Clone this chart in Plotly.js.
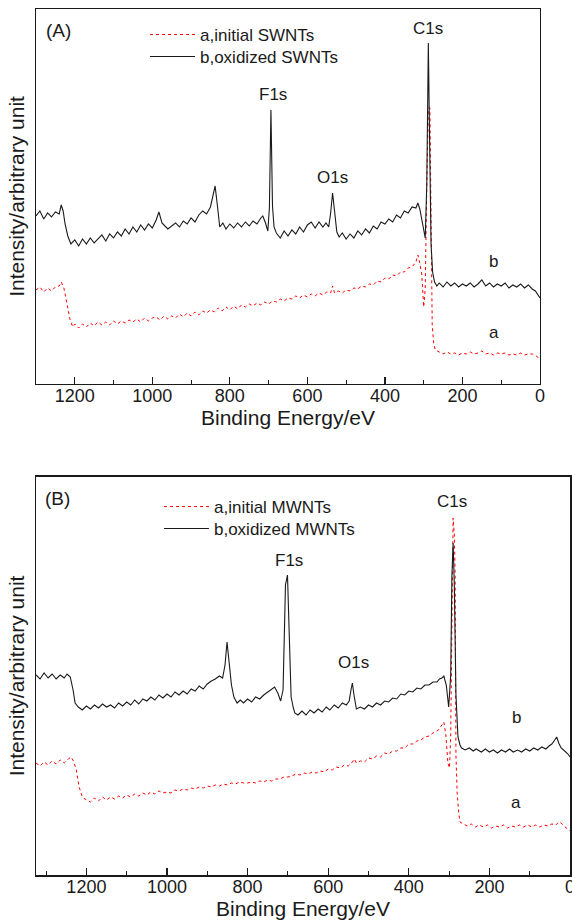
<!DOCTYPE html>
<html>
<head>
<meta charset="utf-8">
<script src="https://cdn.plot.ly/plotly-3.0.1.min.js"></script>
<style>html,body{margin:0;padding:0;background:#fff;}#chart{width:572px;height:924px;}</style>
</head>
<body>
<div id="chart"></div>
<script>
// ---------- Panel A (SWNTs) ----------
const energyA_b = [1300,1290,1280,1270,1260,1250,1240,1235,1230,1225,1218,1210,1200,1190,1180,1170,1160,1150,1140,1130,1120,1110,1100,1090,1080,1070,1060,1050,1040,1030,1020,1010,1000,990,983,975,960,950,940,930,920,910,900,890,880,870,860,850,845,838,832,826,818,810,800,790,780,770,760,750,740,730,720,715,708,702,698,694,690,686,680,670,660,650,640,630,620,610,600,590,580,570,560,552,545,540,535,530,524,518,510,500,490,480,470,460,450,440,430,420,410,400,390,380,370,360,350,340,330,320,315,310,305,300,296,292,288,285,281,277,272,266,260,250,240,230,220,210,200,190,180,170,160,150,140,130,120,110,100,90,80,70,60,50,40,30,20,12,6,0];
const intensityA_b = [168,173,165,171,167,172,170,179,173,160,148,140,144,138,145,140,146,141,145,149,143,150,146,152,148,155,150,157,152,159,154,160,156,164,172,161,155,158,161,157,163,160,166,162,169,173,170,177,185,198,178,157,161,155,160,156,161,157,162,158,163,160,166,168,161,153,176,274,178,157,151,146,153,148,154,150,157,152,159,162,156,162,157,161,157,171,191,170,152,147,151,145,150,146,153,149,155,151,158,155,162,160,165,162,169,166,173,171,177,176,181,175,164,152,146,200,341,250,140,112,102,98,101,97,102,98,101,97,100,98,101,97,100,104,98,101,97,100,98,101,96,99,97,100,96,99,95,93,89,86];

const energyA_a = [1300,1290,1280,1270,1260,1250,1240,1235,1228,1220,1212,1205,1200,1190,1180,1170,1160,1150,1140,1130,1120,1110,1100,1090,1080,1070,1060,1050,1040,1030,1020,1010,1000,990,980,970,960,950,940,930,920,910,900,890,880,870,860,850,840,830,820,810,800,790,780,770,760,750,740,730,720,710,700,690,680,670,660,650,640,630,620,610,600,590,580,570,560,550,540,535,530,520,510,500,490,480,470,460,450,440,430,420,410,400,390,380,370,360,350,340,330,320,315,310,305,300,296,292,288,284,281,278,274,270,260,250,240,230,220,210,200,190,180,170,160,150,140,130,120,110,100,90,80,70,60,50,40,30,20,10,0];
const intensityA_a = [94,97,92,96,93,97,98,102,96,80,64,57,60,56,60,57,61,58,62,59,62,59,63,60,63,61,64,62,65,62,66,63,66,67,64,68,65,68,66,70,67,71,68,72,69,73,71,74,72,76,73,77,74,78,75,79,77,80,78,81,79,82,80,83,82,85,83,86,85,88,86,89,87,90,88,91,89,92,91,98,91,93,91,94,93,96,95,98,97,100,99,103,102,106,105,109,108,112,112,116,117,122,129,121,110,77,95,200,276,276,150,59,40,34,32,30,32,30,31,29,31,30,32,30,31,33,30,31,29,31,30,31,29,30,29,31,29,30,30,28,25];

// ---------- Panel B (MWNTs) ----------
const energyB_b = [1325,1315,1305,1295,1285,1275,1265,1255,1248,1240,1233,1228,1220,1210,1200,1190,1180,1170,1160,1150,1140,1130,1120,1110,1100,1090,1080,1070,1060,1050,1040,1030,1020,1010,1000,990,980,970,960,950,940,930,920,910,900,890,880,870,862,856,851,846,840,834,826,818,810,800,790,780,770,760,750,740,733,725,718,712,706,701,697,692,687,683,675,665,655,645,635,625,615,605,596,585,575,565,555,548,543,540,536,530,520,510,500,490,480,470,460,450,440,430,420,410,400,390,380,370,360,350,340,330,324,318,313,307,301,296,293,290,287,283,278,273,269,260,250,240,233,220,210,200,190,180,170,160,150,141,130,120,110,100,90,80,70,60,52,45,38,33,28,22,16,10,5,0];
const intensityB_b = [200,196,202,197,201,196,200,197,201,198,185,172,168,165,169,166,170,167,171,168,170,167,172,169,173,170,175,171,176,174,178,175,180,177,181,178,183,180,184,181,186,184,189,186,191,194,196,199,197,210,233,210,190,178,172,175,172,176,173,178,176,180,183,186,188,182,174,185,290,300,250,178,168,162,160,164,160,165,162,166,163,168,165,170,167,172,170,174,186,192,180,166,168,166,170,168,172,170,174,173,177,176,181,180,184,183,187,186,190,190,193,193,196,197,199,190,168,200,300,332,290,180,138,130,127,125,127,124,126,123,126,123,125,122,125,123,126,123,125,123,126,124,127,125,128,126,129,131,135,138,132,127,125,123,121,118];

const energyB_a = [1325,1315,1305,1295,1285,1275,1265,1255,1245,1238,1232,1225,1218,1210,1200,1190,1180,1170,1160,1150,1140,1130,1120,1110,1100,1090,1080,1070,1060,1050,1040,1030,1020,1010,1000,990,980,970,960,950,940,930,920,910,900,890,880,870,860,850,840,830,820,810,800,790,780,770,760,750,740,730,720,710,700,690,680,670,660,650,640,630,620,610,600,590,580,570,560,550,540,535,530,520,510,500,490,480,470,460,450,440,430,420,410,400,390,380,370,360,350,340,330,324,318,313,308,303,299,296,293,290,287,285,283,280,276,273,265,255,245,235,225,215,205,195,185,175,165,155,145,135,125,115,105,95,85,75,65,55,45,35,28,22,15,10,5,0];
const intensityB_a = [112,109,113,110,114,111,115,112,116,118,114,105,88,78,75,73,77,74,78,75,78,76,79,77,80,78,81,79,82,80,83,81,84,82,83,82,85,84,86,85,87,86,88,87,89,88,90,89,91,90,92,91,93,92,92,93,92,94,93,95,94,96,96,98,98,99,101,100,102,101,103,102,104,103,106,105,108,107,110,109,113,116,112,114,113,117,116,119,118,122,121,124,124,127,127,131,131,134,135,138,139,142,144,146,150,153,140,112,107,140,250,357,340,300,120,82,62,53,51,49,51,48,50,48,50,47,49,48,50,47,49,48,50,48,50,48,50,48,50,49,51,50,53,52,49,47,46,44];

const tickValsX = [1200,1000,800,600,400,200,0];
const tickTextX = ['1200','1000','800','600','400','200','0'];

const FONT = 'Liberation Sans, Arial, Helvetica, sans-serif';
const INK = '#1a1a1a';
const RED = 'rgb(255,0,0)';

const traces = [
  {x: energyA_a, y: intensityA_a, xaxis:'x', yaxis:'y', type:'scatter', mode:'lines', name:'a,initial SWNTs',
   line:{color:RED, width:1, dash:'dot'}, legend:'legend'},
  {x: energyA_b, y: intensityA_b, xaxis:'x', yaxis:'y', type:'scatter', mode:'lines', name:'b,oxidized SWNTs',
   line:{color:INK, width:1.1}, legend:'legend2'},
  {x: energyB_a, y: intensityB_a, xaxis:'x2', yaxis:'y2', type:'scatter', mode:'lines', name:'a,initial MWNTs',
   line:{color:RED, width:1, dash:'dot'}, legend:'legend3'},
  {x: energyB_b, y: intensityB_b, xaxis:'x2', yaxis:'y2', type:'scatter', mode:'lines', name:'b,oxidized MWNTs',
   line:{color:INK, width:1.1}, legend:'legend4'}
];

function xAxis(range, domain, anchor) {
  return {
    domain: domain, range: range, anchor: anchor, autorange: false,
    showline: true, mirror: true, linecolor: INK, linewidth: 1.5,
    ticks: 'inside', ticklen: 7, tickwidth: 1.2, tickcolor: INK,
    tickvals: tickValsX, ticktext: tickTextX, ticklabeloverflow: 'allow', ticklabelstandoff: -5,
    minor: {dtick: 100, tick0: 0, ticks: 'inside', ticklen: 4, tickwidth: 1, tickcolor: INK, showgrid:false},
    showgrid: false, zeroline: false, automargin: false,
    tickfont: {family: FONT, size: 18, color: INK},
    title: {text: 'Binding Energy/eV', font: {family: FONT, size: 21, color: INK}, standoff: 2}
  };
}
function yAxis(range, domain, anchor) {
  return {
    domain: domain, range: range, anchor: anchor, autorange: false,
    showline: true, mirror: true, linecolor: INK, linewidth: 1.5,
    ticks: '', showticklabels: false, showgrid: false, zeroline: false, automargin: false,
    title: {text: 'Intensity/arbitrary unit', font: {family: FONT, size: 21, color: INK}, standoff: 4}
  };
}
function leg(x, y) {
  return {x: x, y: y, xanchor: 'left', yanchor: 'top', bgcolor: 'rgba(0,0,0,0)', borderwidth: 0,
          font: {family: FONT, size: 17, color: INK}, itemwidth: 45};
}

const labelFont = {family: FONT, size: 17, color: INK};
function lab(text, x, y, xr, yr, size) {
  return {text: text, x: x, y: y, xref: xr, yref: yr, showarrow: false,
          font: {family: FONT, size: size || 17, color: INK}, xanchor: 'center', yanchor: 'middle'};
}

const layout = {
  width: 572, height: 924,
  margin: {l: 36, r: 2, t: 9, b: 49},
  paper_bgcolor: '#fff', plot_bgcolor: '#fff',
  font: {family: FONT, color: INK},
  xaxis: xAxis([1300, 0], [0, 0.9438], 'y'),
  yaxis: yAxis([0, 375], [0.567, 1], 'x'),
  xaxis2: xAxis([1325, 0], [0, 1], 'y2'),
  yaxis2: yAxis([0, 398], [0, 0.4596], 'x2'),
  showlegend: true,
  legend: leg(0.2041, 0.9908),
  legend2: leg(0.2041, 0.9654),
  legend3: leg(0.2303, 0.4457),
  legend4: leg(0.2303, 0.4203),
  annotations: [
    lab('(A)', 1241, 354, 'x', 'y', 19),
    lab('C1s', 289, 356, 'x', 'y'),
    lab('F1s', 689, 289, 'x', 'y'),
    lab('O1s', 534, 206, 'x', 'y'),
    lab('b', 119, 122, 'x', 'y'),
    lab('a', 119, 51, 'x', 'y'),
    lab('(B)', 1272, 376, 'x2', 'y2', 19),
    lab('C1s', 293, 373, 'x2', 'y2'),
    lab('F1s', 697, 314, 'x2', 'y2'),
    lab('O1s', 538, 212, 'x2', 'y2'),
    lab('b', 134, 157, 'x2', 'y2'),
    lab('a', 134, 72, 'x2', 'y2')
  ]
};

Plotly.newPlot('chart', traces, layout, {staticPlot: true, displayModeBar: false});
</script>
</body>
</html>
